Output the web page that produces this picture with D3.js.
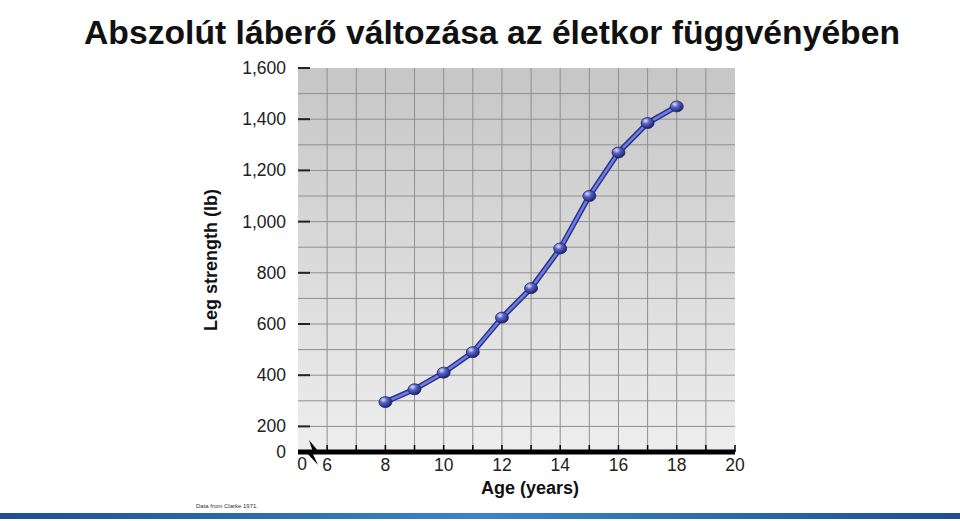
<!DOCTYPE html>
<html><head><meta charset="utf-8">
<script src="https://cdn.jsdelivr.net/npm/d3@7"></script>
<style>body{margin:0;background:#fff}text{font-family:"Liberation Sans",Arial,sans-serif}</style>
</head><body>
<script>
// data
const ages = [8, 9, 10, 11, 12, 13, 14, 15, 16, 17, 18];
const strength = [295, 345, 410, 490, 625, 740, 895, 1100, 1270, 1385, 1450];
const xTicks = [6, 8, 10, 12, 14, 16, 18, 20];
const yTicks = [200, 400, 600, 800, 1000, 1200, 1400, 1600];

const W = 960, H = 521;
const svg = d3.select("body").append("svg").attr("width", W).attr("height", H);

const x = d3.scaleLinear().domain([5, 20]).range([298, 735]);
const y = d3.scaleLinear().domain([100, 1600]).range([452, 68]);

const defs = svg.append("defs");
const bg = defs.append("linearGradient").attr("id", "bg").attr("x1", 0).attr("y1", 1).attr("x2", 0).attr("y2", 0);
bg.append("stop").attr("offset", 0).attr("stop-color", "#eeeeee");
bg.append("stop").attr("offset", 1).attr("stop-color", "#c6c6c6");
const band = defs.append("linearGradient").attr("id", "band");
band.append("stop").attr("offset", 0).attr("stop-color", "#1d4f8c");
band.append("stop").attr("offset", 0.5).attr("stop-color", "#3a86c8");
band.append("stop").attr("offset", 1).attr("stop-color", "#1d4f8c");
const ball = defs.append("radialGradient").attr("id", "ball").attr("cx", 0.35).attr("cy", 0.3).attr("r", 0.7);
ball.append("stop").attr("offset", 0).attr("stop-color", "#dfe4ff");
ball.append("stop").attr("offset", 0.4).attr("stop-color", "#5a64c8");
ball.append("stop").attr("offset", 1).attr("stop-color", "#1e2470");

// title
svg.append("text").attr("x", 84).attr("y", 44).attr("font-size", 33.5).attr("font-weight", "bold")
  .attr("font-family", "'Open Sans',sans-serif").attr("fill", "#111")
  .attr("textLength", 816).attr("lengthAdjust", "spacingAndGlyphs")
  .text("Abszolút láberő változása az életkor függvényében");

// plot background
svg.append("rect").attr("x", x(5)).attr("y", y(1600)).attr("width", x(20) - x(5)).attr("height", y(100) - y(1600)).attr("fill", "url(#bg)");

// grid
const g = svg.append("g").attr("stroke", "#8f8f8f").attr("stroke-width", 1);
g.selectAll(".v").data(d3.range(6, 20)).join("line")
  .attr("x1", d => x(d)).attr("x2", d => x(d)).attr("y1", y(1600)).attr("y2", y(100));
g.selectAll(".h").data(d3.range(200, 1600, 100)).join("line")
  .attr("y1", d => y(d)).attr("y2", d => y(d)).attr("x1", x(5)).attr("x2", x(20));

// y tick marks and labels
svg.selectAll(".yt").data(yTicks).join("line")
  .attr("x1", x(5)).attr("x2", x(5) + 12).attr("y1", d => y(d)).attr("y2", d => y(d))
  .attr("stroke", "#222").attr("stroke-width", 2);
svg.selectAll(".yl").data(yTicks).join("text")
  .attr("x", 286).attr("y", d => y(d) + 6).attr("text-anchor", "end").attr("font-size", 17.5).attr("fill", "#222")
  .text(d => d3.format(",")(d));
svg.append("text").attr("x", 286).attr("y", 458).attr("text-anchor", "end").attr("font-size", 17.5).attr("fill", "#222").text("0");

// x axis
svg.append("line").attr("x1", x(5)).attr("x2", x(20)).attr("y1", 452).attr("y2", 452).attr("stroke", "#000").attr("stroke-width", 5);
svg.selectAll(".xt").data(d3.range(6, 21)).join("line")
  .attr("x1", d => x(d)).attr("x2", d => x(d)).attr("y1", 452).attr("y2", 445).attr("stroke", "#000").attr("stroke-width", 1.5);
svg.selectAll(".xl").data(xTicks).join("text")
  .attr("x", d => x(d)).attr("y", 471).attr("text-anchor", "middle").attr("font-size", 17.5).attr("fill", "#222").text(d => d);
svg.append("text").attr("x", 302).attr("y", 470).attr("text-anchor", "middle").attr("font-size", 17.5).attr("fill", "#222").text("0");
// axis break
svg.append("path").attr("d", "M309,440 L319,452 L312,452 L318,465 L306,452 L313,452 Z").attr("fill", "#000");

// axis titles
svg.append("text").attr("x", 530).attr("y", 494).attr("text-anchor", "middle").attr("font-size", 18).attr("font-weight", "bold").attr("fill", "#111").text("Age (years)");
svg.append("text").attr("transform", "translate(217,260) rotate(-90)").attr("text-anchor", "middle").attr("font-size", 18).attr("font-weight", "bold").attr("fill", "#111").text("Leg strength (lb)");
svg.append("text").attr("x", 196).attr("y", 508).attr("font-size", 6).attr("font-family", "'Liberation Serif',serif").attr("fill", "#333").text("Data from Clarke 1971.");

// line
const pts = ages.map((a, i) => [a, strength[i]]);
const line = d3.line().x(d => x(d[0])).y(d => y(d[1]));
svg.append("path").datum(pts).attr("d", line).attr("fill", "none").attr("stroke", "#2a3290").attr("stroke-width", 5.5);
svg.append("path").datum(pts).attr("d", line).attr("fill", "none").attr("stroke", "#6f7fd8").attr("stroke-width", 2.5);
svg.selectAll(".pt").data(pts).join("ellipse")
  .attr("cx", d => x(d[0])).attr("cy", d => y(d[1])).attr("rx", 6.5).attr("ry", 5.5)
  .attr("fill", "url(#ball)").attr("stroke", "#1e2470").attr("stroke-width", 0.8);

// bottom band
svg.append("rect").attr("x", 0).attr("y", 513).attr("width", W).attr("height", 6).attr("fill", "url(#band)");
</script>
</body></html>
